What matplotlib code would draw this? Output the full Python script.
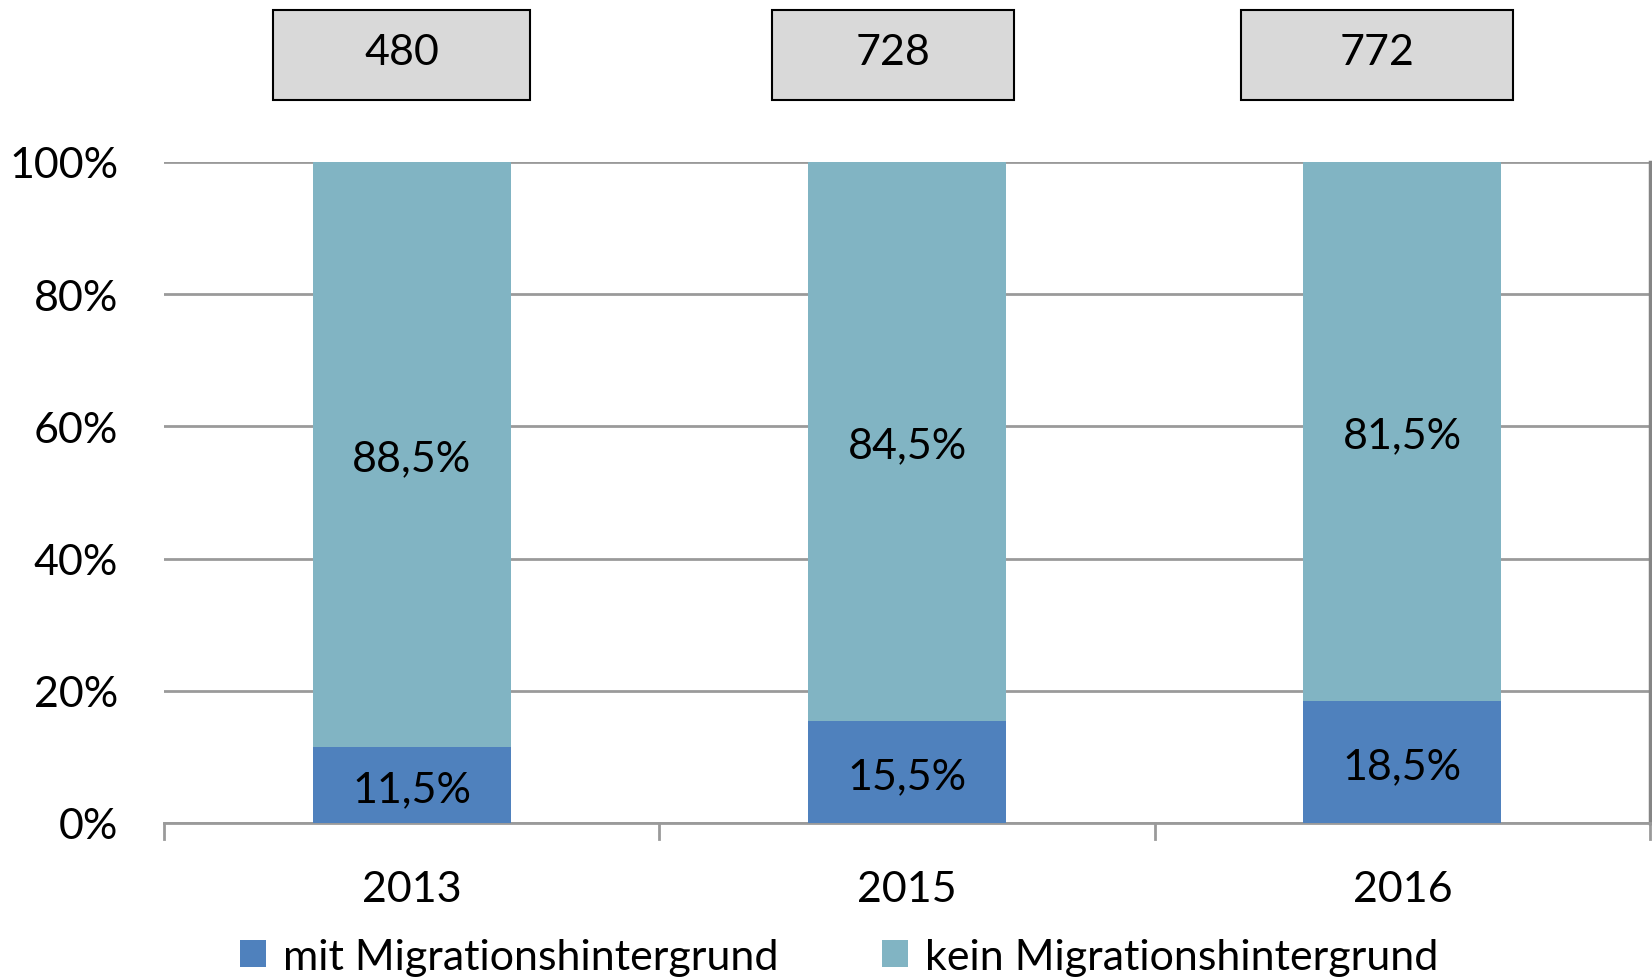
import matplotlib
matplotlib.use("Agg")
import matplotlib.pyplot as plt
from matplotlib.patches import Rectangle, Patch

years = ["2013", "2015", "2016"]
mit = [11.5, 15.5, 18.5]
kein = [88.5, 84.5, 81.5]
totals = [480, 728, 772]
series_names = ["mit Migrationshintergrund", "kein Migrationshintergrund"]
yticks = [0, 20, 40, 60, 80, 100]

c_mit = "#4F81BD"
c_kein = "#81B4C3"
grid_c = "#9A9A9A"

plt.rcParams['font.family'] = ['Lato', 'DejaVu Sans']
FS = 31

W, H = 1652, 978
fig = plt.figure(figsize=(W / 100, H / 100), dpi=100)
ax = fig.add_axes([164 / W, 1 - 824 / H, (1650 - 164) / W, (824 - 163) / H])

x = list(range(len(years)))
ax.bar(x, mit, width=0.4, color=c_mit, zorder=3)
ax.bar(x, kein, width=0.4, bottom=mit, color=c_kein, zorder=3)

for i in x:
    ax.text(i, mit[i] / 2 - 0.6, f"{mit[i]:.1f}%".replace(".", ","), ha="center",
            va="center", fontsize=FS, zorder=4)
    ax.text(i, mit[i] + kein[i] / 2 - 0.6, f"{kein[i]:.1f}%".replace(".", ","), ha="center",
            va="center", fontsize=FS, zorder=4)

ax.set_xlim(-0.5, len(years) - 0.5)
ax.set_ylim(0, 100)
ax.set_yticks(yticks)
ax.set_yticklabels([f"{t}%" for t in yticks], fontsize=FS)
ax.yaxis.grid(True, color=grid_c, linewidth=2, zorder=0)
ax.tick_params(axis="y", length=0, pad=33)

ax.set_xticks(x)
ax.set_xticklabels(years, fontsize=FS)
ax.tick_params(axis="x", length=0, pad=34)
# category separator ticks
for b in [-0.5, 0.5, 1.5, 2.5]:
    ax.plot([b, b], [0, -2.4], color=grid_c, linewidth=2, clip_on=False, zorder=2)

for s in ["top", "left"]:
    ax.spines[s].set_visible(False)
ax.spines["bottom"].set_color(grid_c)
ax.spines["bottom"].set_linewidth(2)
ax.spines["right"].set_color("#858585")
ax.spines["right"].set_linewidth(2.5)

# count boxes
box_px = [(273, 530), (772, 1014), (1241, 1513)]
for (l, r), t in zip(box_px, totals):
    fig.patches.append(Rectangle((l / W, 1 - 101 / H), (r - l) / W, 90 / H,
                                 transform=fig.transFigure, facecolor="#D9D9D9",
                                 edgecolor="black", linewidth=1.5))
    fig.text((l + r) / 2 / W, 1 - 53 / H, str(t), ha="center", va="center", fontsize=FS)

handles = [Patch(facecolor=c_mit), Patch(facecolor=c_kein)]
fig.legend(handles, series_names, loc="center", bbox_to_anchor=(0.508, 1 - 958 / H),
           ncol=2, frameon=False, fontsize=FS, handlelength=0.6, handleheight=0.6,
           handletextpad=0.4, columnspacing=2.4)

fig.savefig("out.png", dpi=100)
